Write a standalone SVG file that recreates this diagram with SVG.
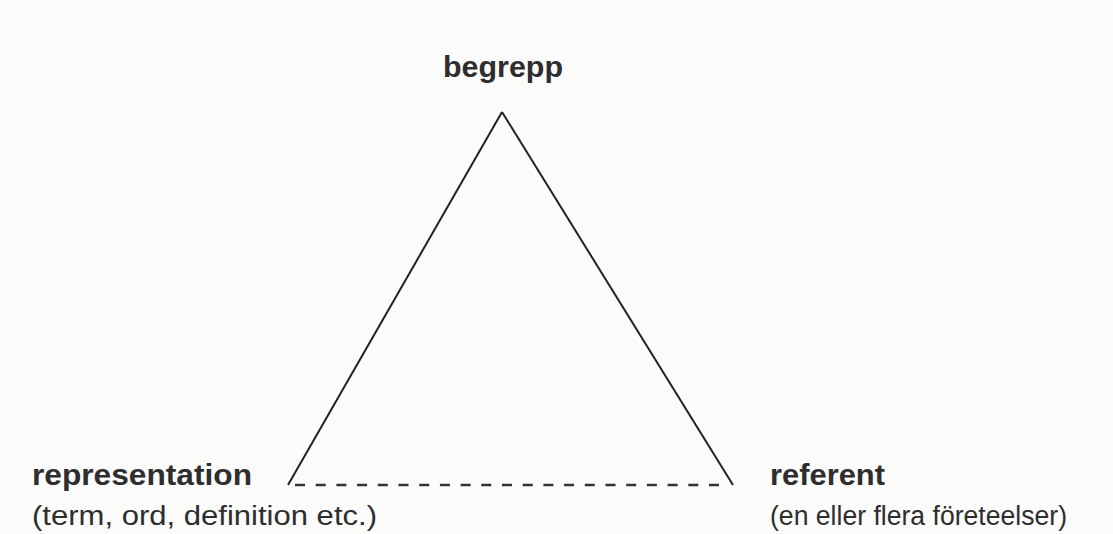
<svg xmlns="http://www.w3.org/2000/svg" width="1113" height="534" viewBox="0 0 1113 534">
<style>
.b{font-family:"Liberation Sans",Arial,sans-serif;font-weight:bold;font-size:29px;fill:#2e2e2e}
.r{font-family:"Liberation Sans",Arial,sans-serif;font-size:27px;fill:#2e2e2e}
.s{stroke:#222;stroke-width:2;fill:none}
.d{stroke:#333;stroke-width:2.5;stroke-dasharray:10 10.7;fill:none}
</style>
<rect width="1113" height="534" fill="#fbfbfa"/>
<g id="connectors">
<line class="s" x1="502" y1="112" x2="288" y2="485"/>
<line class="s" x1="502" y1="112" x2="733" y2="485"/>
<line class="d" x1="295" y1="485" x2="728" y2="485"/>
</g>
<g id="begrepp"><text class="b" x="503" y="77" text-anchor="middle" textLength="120" lengthAdjust="spacingAndGlyphs">begrepp</text></g>
<g id="representation">
<text class="b" x="32" y="485" textLength="220" lengthAdjust="spacingAndGlyphs">representation</text>
<text class="r" x="32" y="525" textLength="345" lengthAdjust="spacingAndGlyphs">(term, ord, definition etc.)</text>
</g>
<g id="referent">
<text class="b" x="770" y="485" textLength="115" lengthAdjust="spacingAndGlyphs">referent</text>
<text class="r" x="770" y="525" textLength="297" lengthAdjust="spacingAndGlyphs">(en eller flera företeelser)</text>
</g>
</svg>
